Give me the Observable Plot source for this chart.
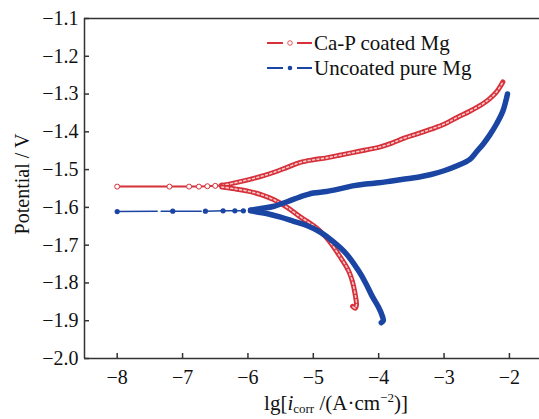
<!DOCTYPE html>
<html><head><meta charset="utf-8">
<script src="https://cdn.jsdelivr.net/npm/d3@7"></script>
<script src="https://cdn.jsdelivr.net/npm/@observablehq/plot@0.6"></script>
<style>
body{margin:0;background:#fff}
svg{font-family:"Liberation Serif","Times New Roman",serif}
</style>
</head><body><div id="chart"></div>
<script>
// axis ticks
const xTicks = [-8, -7, -6, -5, -4, -3, -2];
const yTicks = [-2.0, -1.9, -1.8, -1.7, -1.6, -1.5, -1.4, -1.3, -1.2, -1.1];
const xDomain = [-8.5, -1.54];
const yDomain = [-2.0, -1.1];

// Ca-P coated Mg: sparse open-circle part near Ecorr
const redFlatX = [-8, -7.2, -6.9, -6.75, -6.62, -6.5, -6.4];
const redFlatY = [-1.545, -1.545, -1.545, -1.545, -1.544, -1.543, -1.542];
// Ca-P coated Mg: anodic branch
const redAnoX = [-6.4, -6.2, -6.0, -5.8, -5.6, -5.4, -5.2, -5.0, -4.8, -4.6, -4.4, -4.2, -4.0, -3.8, -3.6, -3.4, -3.2, -3.0, -2.8, -2.6, -2.4, -2.3, -2.2, -2.1];
const redAnoY = [-1.542, -1.535, -1.527, -1.518, -1.507, -1.494, -1.481, -1.474, -1.469, -1.462, -1.455, -1.448, -1.441, -1.430, -1.416, -1.405, -1.393, -1.380, -1.362, -1.345, -1.325, -1.312, -1.295, -1.268];
// Ca-P coated Mg: cathodic branch
const redCatX = [-6.4, -6.2, -6.0, -5.8, -5.6, -5.4, -5.2, -5.0, -4.9, -4.8, -4.7, -4.6, -4.5, -4.45, -4.4, -4.36, -4.34, -4.36, -4.40];
const redCatY = [-1.546, -1.551, -1.557, -1.566, -1.580, -1.600, -1.625, -1.648, -1.662, -1.680, -1.702, -1.728, -1.755, -1.772, -1.797, -1.830, -1.858, -1.867, -1.862];

// Uncoated pure Mg: sparse filled-dot part near Ecorr
const blueFlatX = [-8, -7.15, -6.65, -6.38, -6.2, -6.07, -5.96];
const blueFlatY = [-1.611, -1.610, -1.610, -1.609, -1.609, -1.609, -1.608];
// Uncoated pure Mg: anodic branch
const blueAnoX = [-5.96, -5.8, -5.6, -5.4, -5.2, -5.0, -4.8, -4.6, -4.4, -4.2, -4.0, -3.8, -3.6, -3.4, -3.2, -3.0, -2.8, -2.6, -2.5, -2.4, -2.3, -2.2, -2.1, -2.03];
const blueAnoY = [-1.607, -1.603, -1.597, -1.585, -1.572, -1.562, -1.558, -1.551, -1.543, -1.538, -1.535, -1.530, -1.525, -1.520, -1.513, -1.503, -1.490, -1.472, -1.452, -1.432, -1.408, -1.380, -1.345, -1.300];
// Uncoated pure Mg: cathodic branch
const blueCatX = [-5.96, -5.7, -5.5, -5.3, -5.1, -4.9, -4.7, -4.5, -4.3, -4.2, -4.1, -4.0, -3.95, -3.93, -3.96];
const blueCatY = [-1.609, -1.617, -1.626, -1.637, -1.648, -1.665, -1.690, -1.722, -1.770, -1.800, -1.835, -1.865, -1.885, -1.900, -1.905];

const RED = "#d6303a";
const BLUE = "#1b45a3";
const AXIS = "#333";

const W = 539, H = 419, ML = 84, MR = 0, MT = 18, MB = 61;
const TICK = 5; // px, inward
const xPerPx = (xDomain[1] - xDomain[0]) / (W - ML - MR);
const yPerPx = (yDomain[1] - yDomain[0]) / (H - MT - MB);

const pts = (xs, ys) => xs.map((x, i) => ({x, y: ys[i]}));
const redFlat = pts(redFlatX, redFlatY);
const redAno = pts(redAnoX, redAnoY);
const redCat = pts(redCatX, redCatY);
const blueFlat = pts(blueFlatX, blueFlatY);
const blueAno = pts(blueAnoX, blueAnoY);
const blueCat = pts(blueCatX, blueCatY);

const band = (data, color, w, extra = {}) => Plot.line(data, {x: "x", y: "y", stroke: color, strokeWidth: w, curve: "catmull-rom", strokeLinecap: "round", ...extra});

const chart = Plot.plot({
  width: W,
  height: H,
  marginLeft: ML,
  marginRight: MR,
  marginTop: MT,
  marginBottom: MB,
  style: {fontFamily: "Liberation Serif, serif", background: "#fff", overflow: "visible"},
  x: {domain: xDomain},
  y: {domain: yDomain},
  marks: [
    // frame (top, bottom, left)
    Plot.ruleY([yDomain[1]], {stroke: AXIS, strokeWidth: 1.5}),
    Plot.ruleY([yDomain[0]], {stroke: AXIS, strokeWidth: 1.5}),
    Plot.ruleX([xDomain[0]], {stroke: AXIS, strokeWidth: 1.5}),
    // inward ticks
    Plot.ruleX(xTicks, {x: d => d, y1: yDomain[0], y2: yDomain[0] + TICK * yPerPx, stroke: AXIS, strokeWidth: 1.5}),
    Plot.ruleY(yTicks, {y: d => d, x1: xDomain[0], x2: xDomain[0] + TICK * xPerPx, stroke: AXIS, strokeWidth: 1.5}),
    // tick labels
    Plot.axisX(xTicks, {anchor: "bottom", tickSize: 0, tickPadding: 11, fontSize: 20, fill: "#111", label: null, tickFormat: d3.format("d")}),
    Plot.axisY(yTicks, {anchor: "left", tickSize: 0, tickPadding: 6, fontSize: 20, fill: "#111", label: null, tickFormat: d3.format(".1f")}),
    // Ca-P coated Mg
    Plot.line(redFlat, {x: "x", y: "y", stroke: RED, strokeWidth: 2}),
    Plot.dot(redFlat, {x: "x", y: "y", r: 2.5, stroke: RED, strokeWidth: 1, fill: "#fff"}),
    band(redAno, RED, 5),
    band(redAno, "#f7c8c8", 1.6, {strokeDasharray: "2,2.5"}),
    band(redCat, RED, 5),
    band(redCat, "#f7c8c8", 1.6, {strokeDasharray: "2,2.5"}),
    // Uncoated pure Mg
    Plot.line(blueFlat, {x: "x", y: "y", stroke: BLUE, strokeWidth: 1.5, strokeDasharray: "40,4"}),
    Plot.dot(blueFlat, {x: "x", y: "y", r: 2.6, fill: BLUE}),
    band(blueAno, BLUE, 5.5),
    band(blueCat, BLUE, 5.5)
  ]
});

const svg = d3.select(chart);
// y axis title
svg.append("text")
  .attr("transform", "translate(29,184) rotate(-90)")
  .attr("text-anchor", "middle")
  .attr("font-size", 20).attr("fill", "#111")
  .text("Potential / V");
// x axis title
const xt = svg.append("text")
  .attr("x", 336).attr("y", 410)
  .attr("text-anchor", "middle")
  .attr("font-size", 21).attr("fill", "#111");
xt.append("tspan").text("lg[");
xt.append("tspan").attr("font-style", "italic").text("i");
xt.append("tspan").attr("font-size", 13).attr("dy", 3).text("corr");
xt.append("tspan").attr("dy", -3).text(" /(A·cm");
xt.append("tspan").attr("font-size", 13).attr("dy", -8).text("−2");
xt.append("tspan").attr("dy", 8).text(")]");

// legend
const legend = [
  {label: "Ca-P coated Mg", color: RED, open: true, y: 43},
  {label: "Uncoated pure Mg", color: BLUE, open: false, y: 68}
];
legend.forEach(d => {
  const g = svg.append("g").attr("text-anchor", "start");
  g.append("line").attr("x1", 267).attr("x2", 283).attr("y1", d.y).attr("y2", d.y).attr("stroke", d.color).attr("stroke-width", 2);
  g.append("line").attr("x1", 297).attr("x2", 312).attr("y1", d.y).attr("y2", d.y).attr("stroke", d.color).attr("stroke-width", 2);
  g.append("circle").attr("cx", 290).attr("cy", d.y).attr("r", 2.3)
    .attr("fill", d.open ? "#fff" : d.color).attr("stroke", d.color).attr("stroke-width", d.open ? 0.8 : 0);
  g.append("text").attr("x", 314).attr("y", d.y + 7).attr("text-anchor", "start").attr("font-size", 21).attr("fill", "#111").text(d.label);
});

document.getElementById("chart").appendChild(chart);
</script>
</body></html>
